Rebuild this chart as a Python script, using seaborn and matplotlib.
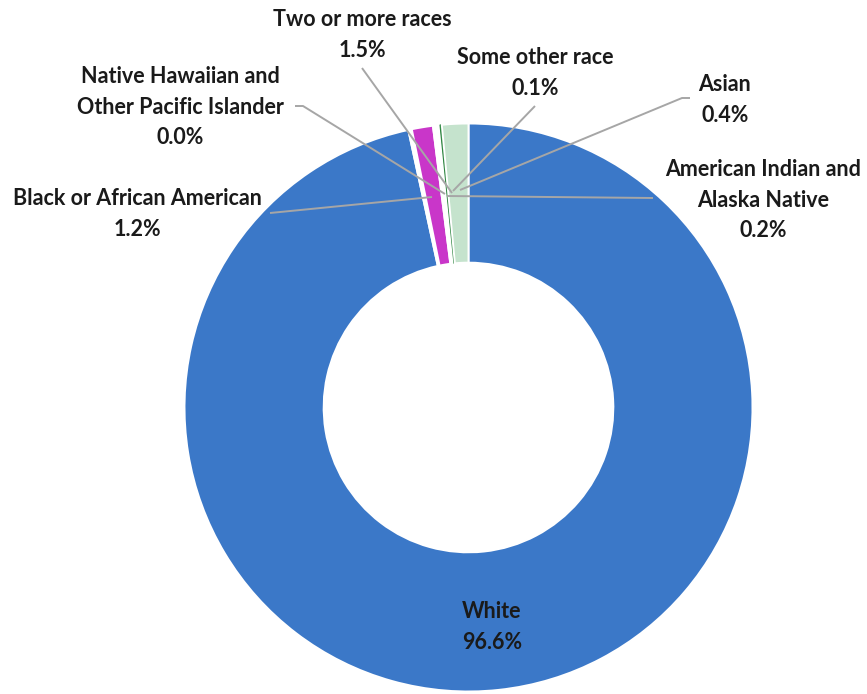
import matplotlib
matplotlib.use("Agg")
import matplotlib.pyplot as plt
import seaborn as sns

# ---- data ----
categories = ["White", "American Indian and\nAlaska Native", "Black or African American",
              "Asian", "Native Hawaiian and\nOther Pacific Islander", "Some other race",
              "Two or more races"]
values = [96.6, 0.2, 1.2, 0.4, 0.0, 0.1, 1.5]
colors = ["#3B78C8", "#FFFFFF", "#C936C9", "#FFFFFF", "#FFFFFF", "#2E8540", "#C5E3CD"]

sns.set_theme(style="white")
plt.rcParams['font.family'] = ['Lato', 'DejaVu Sans']

W, H = 867, 694
fig = plt.figure(figsize=(W / 100, H / 100), dpi=100)
ax = fig.add_axes([0, 0, 1, 1])

def Y(py):
    return H - py

cx, cy, R = 468.5, 407.5, 284.0
wedges, _ = ax.pie(values, colors=colors, startangle=90, counterclock=False,
                   center=(cx, Y(cy)), radius=R, frame=True,
                   wedgeprops=dict(width=R * 0.49, edgecolor='white', linewidth=1.4))
# keep the thinnest coloured slice visible
wedges[5].set_edgecolor(colors[5])
wedges[5].set_linewidth(0.8)
ax.set_xlim(0, W)
ax.set_ylim(0, H)
ax.axis('off')

# label layout: (text center x, text center y, line points in pixels)
layout = {
    "White": (492, 627, None),
    "American Indian and\nAlaska Native": (763, 200, [(653, 198), (447, 196)]),
    "Black or African American": (137, 214, [(270, 213), (432, 197)]),
    "Asian": (725, 100, [(690, 98), (682, 98), (460, 190)]),
    "Native Hawaiian and\nOther Pacific Islander": (180, 107, [(295, 106), (303, 106), (445, 194)]),
    "Some other race": (535, 73, [(535, 106), (453, 191)]),
    "Two or more races": (362, 35, [(362, 68), (452, 193)]),
}

for cat, val in zip(categories, values):
    tx, ty, pts = layout[cat]
    if pts:
        ax.plot([p[0] for p in pts], [Y(p[1]) for p in pts], color='#A6A6A6',
                lw=1.4, solid_capstyle='butt', zorder=3)
    ax.text(tx, Y(ty), f"{cat}\n{val:.1f}%", ha='center', va='center',
            fontsize=15.5, fontweight='bold', color='#1A1A1A', linespacing=1.55, zorder=4)

fig.savefig("out.png", dpi=100)
